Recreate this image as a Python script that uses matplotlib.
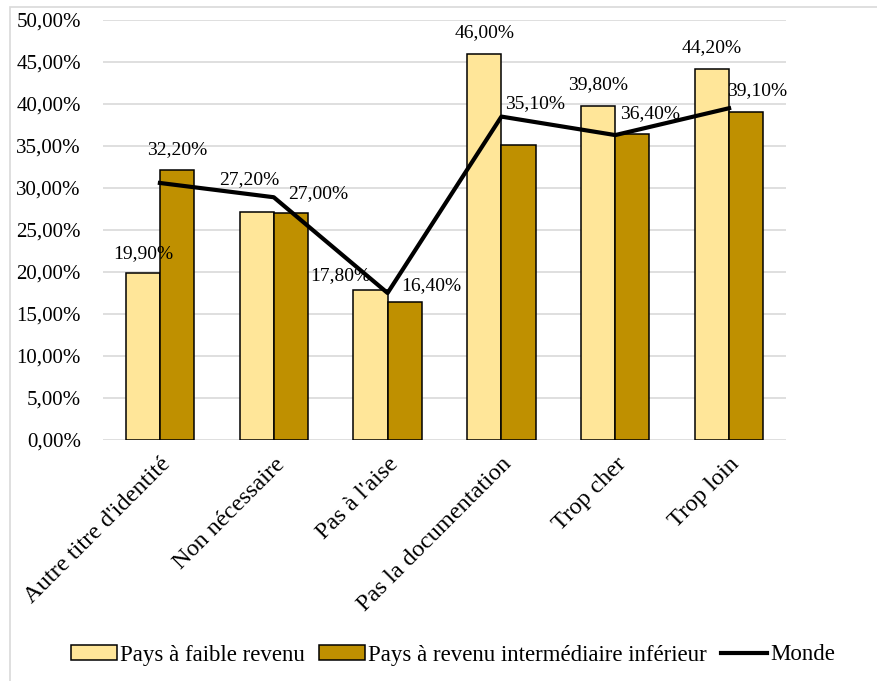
import matplotlib
matplotlib.use("Agg")
import matplotlib.pyplot as plt
from matplotlib.patches import Rectangle
from matplotlib.ticker import FuncFormatter
import numpy as np

plt.rcParams['font.family'] = ['Liberation Serif', 'DejaVu Serif']

categories = ["Autre titre d'identité", "Non nécessaire", "Pas à l'aise",
              "Pas la documentation", "Trop cher", "Trop loin"]
faible = [19.9, 27.2, 17.8, 46.0, 39.8, 44.2]
intermediaire = [32.2, 27.0, 16.4, 35.1, 36.4, 39.1]
monde = [30.6, 28.9, 17.5, 38.5, 36.3, 39.5]
yticks = [0, 5, 10, 15, 20, 25, 30, 35, 40, 45, 50]

# label offsets in points (dx, dy) for data labels
off_faible = [(0, 14), (-5, 23), (-22, 11), (0, 15), (0, 15), (0, 15)]
off_inter = [(0, 14), (20, 14), (19, 12), (12, 30), (13, 15), (8, 15)]

W, H = 877, 681
fig = plt.figure(figsize=(W / 100, H / 100), dpi=100)
ax = fig.add_axes([103 / W, 1 - 440 / H, (786 - 103) / W, 420 / H])

# outer chart border (partially visible)
fig.patches.append(Rectangle((10 / W, -0.1), 1.2, (1 - 7 / H) + 0.1,
                             transform=fig.transFigure, fill=False,
                             edgecolor='#D9D9D9', linewidth=1.2))

x = np.arange(len(categories))
bw = 0.3
c1, c2 = '#FFE699', '#BF9000'
b1 = ax.bar(x - bw / 2, faible, bw, color=c1, edgecolor='black', linewidth=1.1,
            label='Pays à faible revenu', zorder=3)
b2 = ax.bar(x + bw / 2, intermediaire, bw, color=c2, edgecolor='black', linewidth=1.1,
            label='Pays à revenu intermédiaire inférieur', zorder=3)
ln, = ax.plot(x, monde, color='black', linewidth=3.0, label='Monde', zorder=4)

def fmt(v):
    return f"{v:.2f}".replace('.', ',') + '%'

for xi, v, o in zip(x - bw / 2, faible, off_faible):
    ax.annotate(fmt(v), (xi, v), xytext=o, textcoords='offset points',
                ha='center', va='center', fontsize=14, zorder=5)
for xi, v, o in zip(x + bw / 2, intermediaire, off_inter):
    ax.annotate(fmt(v), (xi, v), xytext=o, textcoords='offset points',
                ha='center', va='center', fontsize=14, zorder=5)

ax.set_xlim(-0.5, len(categories) - 0.5)
ax.set_ylim(0, 50)
ax.set_yticks(yticks)
ax.yaxis.set_major_formatter(FuncFormatter(lambda v, p: fmt(v)))
ax.grid(axis='y', color='#D9D9D9', linewidth=1.2, zorder=0)
for s in ax.spines.values():
    s.set_visible(False)
ax.tick_params(axis='both', length=0)
ax.tick_params(axis='y', pad=16, labelsize=15)
ax.set_xticks(x)
ax.set_xticklabels(categories, rotation=45, ha='right', rotation_mode='anchor',
                   fontsize=17.5)
ax.tick_params(axis='x', pad=10)

fig.legend(handles=[b1, b2, ln], loc='center', bbox_to_anchor=(453 / W, 1 - 655 / H),
           ncol=3, frameon=False, fontsize=16.5, handlelength=2.0, handletextpad=0.15,
           columnspacing=0.6, handleheight=0.6)

fig.savefig('out.png', dpi=100)
